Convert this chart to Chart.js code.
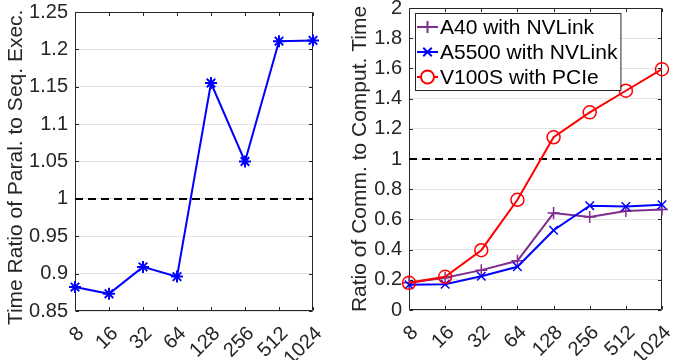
<!DOCTYPE html>
<html><head><meta charset="utf-8">
<script src="https://cdn.jsdelivr.net/npm/chart.js@4/dist/chart.umd.min.js"></script>
<style>
html,body{margin:0;padding:0;background:#fff;width:675px;height:360px;overflow:hidden}
canvas{position:absolute;top:0}
</style></head><body>
<canvas id="c1" width="340" height="360" style="left:0"></canvas>
<canvas id="c2" width="335" height="360" style="left:340px"></canvas>
<script>
const categories = ['8','16','32','64','128','256','512','1024'];
const timeRatio = [0.882,0.873,0.909,0.896,1.155,1.050,1.211,1.212];
const leftYTicks = ['0.85','0.9','0.95','1','1.05','1.1','1.15','1.2','1.25'];
const a40 = [0.18,0.213,0.264,0.326,0.642,0.616,0.655,0.665];
const a5500 = [0.167,0.17,0.224,0.286,0.528,0.691,0.686,0.697];
const v100s = [0.18,0.22,0.396,0.73,1.144,1.309,1.452,1.595];
const rightYTicks = ['0','0.2','0.4','0.6','0.8','1','1.2','1.4','1.6','1.8','2'];
const refLine = [1,1,1,1,1,1,1,1];

const FONT = '"Liberation Sans", Arial, Helvetica, sans-serif';
const AXC = '#262626';

const framePlugin = {
  id: 'frame',
  beforeDatasetsDraw(chart) {
    const ctx = chart.ctx, a = chart.chartArea;
    const L = Math.round(a.left) + 0.5, R = Math.round(a.right) - 0.5;
    const T = Math.round(a.top) + 0.5, B = Math.round(a.bottom) - 0.5;
    const tl = 3.5;
    ctx.save();
    ctx.strokeStyle = AXC; ctx.lineWidth = 1;
    ctx.beginPath();
    ctx.rect(L, T, R - L, B - T);
    const xs = chart.scales.x, ys = chart.scales.y;
    xs.ticks.forEach((t, i) => {
      const x = Math.round(xs.getPixelForTick(i)) + 0.5;
      ctx.moveTo(x, B); ctx.lineTo(x, B - tl);
      ctx.moveTo(x, T); ctx.lineTo(x, T + tl);
    });
    ys.ticks.forEach((t, i) => {
      const y = Math.round(ys.getPixelForTick(i)) + 0.5;
      ctx.moveTo(L, y); ctx.lineTo(L + tl, y);
      ctx.moveTo(R, y); ctx.lineTo(R - tl, y);
    });
    ctx.stroke();
    ctx.restore();
  }
};

const legendPlugin = {
  id: 'boxLegend',
  afterDraw(chart) {
    if (!chart.options.plugins.boxLegend || !chart.options.plugins.boxLegend.show) return;
    const ctx = chart.ctx, a = chart.chartArea;
    const items = chart.data.datasets.filter(d => !d.isRef);
    ctx.save();
    ctx.font = '21px ' + FONT;
    const x0 = Math.round(a.left) + 6, y0 = Math.round(a.top) + 5, rowH = 25;
    const maxW = Math.max(...items.map(d => ctx.measureText(d.label).width));
    const w = 25 + maxW + 3, h = rowH * items.length + 2;
    ctx.fillStyle = '#fff'; ctx.fillRect(x0, y0, w, h);
    ctx.strokeStyle = AXC; ctx.lineWidth = 1; ctx.strokeRect(x0 + 0.5, y0 + 0.5, w, h);
    items.forEach((d, i) => {
      const cy = y0 + 14 + i * rowH;
      ctx.strokeStyle = d.borderColor; ctx.lineWidth = d.borderWidth;
      ctx.beginPath(); ctx.moveTo(x0 + 2, cy); ctx.lineTo(x0 + 23, cy); ctx.stroke();
      ctx.fillStyle = '#fff';
      ctx.strokeStyle = d.borderColor;
      Chart.helpers.drawPoint(ctx, {pointStyle: d.pointStyle, rotation: 0, radius: d.pointRadius, borderWidth: d.pointBorderWidth}, x0 + 12.5, cy);
      ctx.fillStyle = '#000';
      ctx.textBaseline = 'middle'; ctx.textAlign = 'left';
      ctx.fillText(d.label, x0 + 25, cy + 1);
    });
    ctx.restore();
  }
};

function fixW(w) { return s => { s.width = w; s.paddingTop = 0; s.paddingBottom = 0; }; }
function fixH(h) { return s => { s.height = h; s.paddingLeft = 0; s.paddingRight = 0; }; }

function makeOptions(yMin, yMax, yStep, yTickLabels, yTitle, yW, xH, pad, titlePad, legendShow) {
  return {
    responsive: false,
    animation: false,
    layout: { padding: pad },
    plugins: { legend: { display: false }, tooltip: { enabled: false }, boxLegend: { show: legendShow } },
    scales: {
      x: {
        type: 'category',
        offset: false,
        grid: { display: false, drawTicks: false },
        border: { display: false },
        afterFit: fixH(xH),
        ticks: {
          autoSkip: false, minRotation: 45, maxRotation: 45,
          padding: 11, labelOffset: 6,
          color: AXC, font: { family: FONT, size: 20 }
        }
      },
      y: {
        min: yMin, max: yMax,
        grid: { color: '#e3e3e3', lineWidth: 1, drawTicks: false },
        border: { display: false },
        afterFit: fixW(yW),
        ticks: {
          stepSize: yStep, padding: 7, color: AXC, font: { family: FONT, size: 20 },
          callback: v => { const f = yTickLabels.find(t => Math.abs(parseFloat(t) - v) < 1e-6); return f === undefined ? '' : f; }
        },
        title: { display: true, text: yTitle, color: AXC, font: { family: FONT, size: 21 }, padding: { top: titlePad, bottom: 0 } }
      }
    }
  };
}

new Chart(document.getElementById('c1'), {
  type: 'line',
  data: {
    labels: categories,
    datasets: [
      { label: 'Time ratio', data: timeRatio, borderColor: '#0000ff', backgroundColor: '#0000ff',
        borderWidth: 2, pointStyle: 'star', pointRadius: 6, pointBorderWidth: 2, pointBorderColor: '#0000ff', order: 1 },
      { label: 'ref', isRef: true, data: refLine, borderColor: '#000', borderWidth: 2, borderDash: [8, 5],
        pointRadius: 0, order: 0 }
    ]
  },
  options: makeOptions(0.85, 1.25, 0.05, leftYTicks, 'Time Ratio of Paral. to Seq. Exec.  ', 75, 49,
    { left: 0, right: 27, top: 12, bottom: 0 }, 4, false),
  plugins: [framePlugin, legendPlugin]
});

new Chart(document.getElementById('c2'), {
  type: 'line',
  data: {
    labels: categories,
    datasets: [
      { label: 'A40 with NVLink', data: a40, borderColor: '#7e2f8e', backgroundColor: '#7e2f8e',
        borderWidth: 2, pointStyle: 'cross', pointRadius: 6, pointBorderWidth: 1.5, order: 3 },
      { label: 'A5500 with NVLink', data: a5500, borderColor: '#0000ff', backgroundColor: '#0000ff',
        borderWidth: 2, pointStyle: 'crossRot', pointRadius: 6, pointBorderWidth: 1.5, order: 2 },
      { label: 'V100S with PCIe', data: v100s, borderColor: '#ff0000', backgroundColor: 'rgba(255,255,255,0)',
        borderWidth: 2, pointStyle: 'circle', pointRadius: 6.5, pointBorderWidth: 1.5, order: 1 },
      { label: 'ref', isRef: true, data: refLine, borderColor: '#000', borderWidth: 2, borderDash: [8, 5],
        pointRadius: 0, order: 4 }
    ]
  },
  options: makeOptions(0, 2, 0.2, rightYTicks, 'Ratio of Comm. to Comput. Time', 69, 50,
    { left: 0, right: 13, top: 7, bottom: 0 }, 8, true),
  plugins: [framePlugin, legendPlugin]
});
</script>
</body></html>
